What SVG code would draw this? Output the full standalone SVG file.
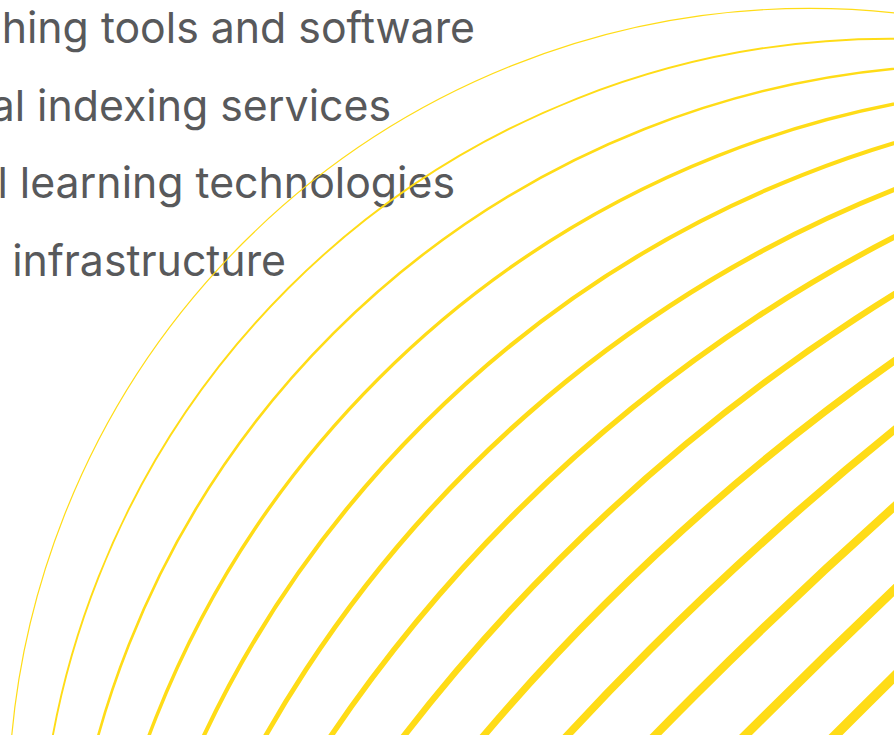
<svg xmlns="http://www.w3.org/2000/svg" width="894" height="735" viewBox="0 0 894 735">
<style>
.t{font-family:Inter,"Noto Sans","Liberation Sans",sans-serif;font-size:42.8px;fill:#58595b;text-anchor:end}
.a{fill:none;stroke:#ffdc17}
</style>
<rect width="894" height="735" fill="#ffffff"/>
<g id="labels">
<text class="t" x="475" y="43">hing tools and software</text>
<text class="t" x="391" y="121">al indexing services</text>
<text class="t" x="455" y="198">l learning technologies</text>
<text class="t" x="286" y="276">infrastructure</text>
</g>
<g id="arcs">
<circle class="a" cx="809.4" cy="809.4" r="801" stroke-width="1.2"/>
<circle class="a" cx="890.7" cy="890.7" r="852" stroke-width="1.9"/>
<circle class="a" cx="982.5" cy="982.5" r="918" stroke-width="2.6"/>
<circle class="a" cx="1085.7" cy="1085.7" r="1000" stroke-width="3.4"/>
<circle class="a" cx="1214.3" cy="1214.3" r="1118" stroke-width="4.1"/>
<circle class="a" cx="1356.4" cy="1356.4" r="1255" stroke-width="4.8"/>
<circle class="a" cx="1589" cy="1589" r="1520" stroke-width="5.5"/>
<circle class="a" cx="1867.5" cy="1867.5" r="1850" stroke-width="6.2"/>
<circle class="a" cx="2160.2" cy="2160.2" r="2200" stroke-width="7"/>
<circle class="a" cx="2841.8" cy="2841.8" r="3100" stroke-width="7.7"/>
<circle class="a" cx="4089.1" cy="4089.1" r="4800" stroke-width="8.4"/>
<circle class="a" cx="7104.2" cy="7104.2" r="9000" stroke-width="9.1"/>
<circle class="a" cx="21998.4" cy="21998.4" r="30000" stroke-width="9.8"/>
</g>
</svg>
